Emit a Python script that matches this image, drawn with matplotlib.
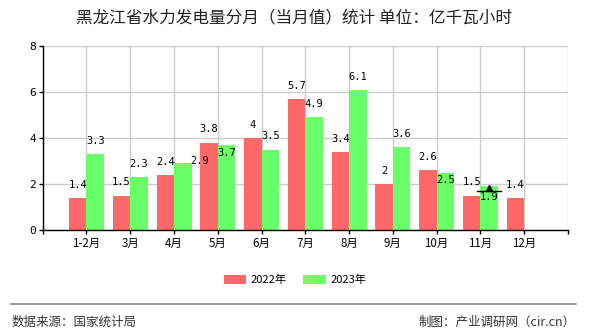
import matplotlib
matplotlib.use('Agg')
import matplotlib.pyplot as plt
import numpy as np

plt.rcParams['font.family'] = ['Noto Sans CJK SC', 'DejaVu Sans']

months = ['1-2月', '3月', '4月', '5月', '6月', '7月', '8月', '9月', '10月', '11月', '12月']
y2022 = [1.4, 1.5, 2.4, 3.8, 4, 5.7, 3.4, 2, 2.6, 1.5, 1.4]
y2023 = [3.3, 2.3, 2.9, 3.7, 3.5, 4.9, 6.1, 3.6, 2.5, 1.9]

# label nudges (points) for the few labels that get pushed off their bar
nudge_2023 = {2: (12, -8), 3: (0, -15), 8: (0, -15), 9: (0, -17)}

red = '#ff6868'
green = '#68ff68'

fig = plt.figure(figsize=(5.9, 3.3), dpi=100)
ax = fig.add_axes([0.0724, 0.303, 0.8903, 0.5576])

x = np.arange(1, len(months) + 1)
w = 0.4
ax.bar(x[:len(y2022)] - w / 2, y2022, w, color=red, label='2022年', zorder=2)
ax.bar(x[:len(y2023)] + w / 2, y2023, w, color=green, label='2023年', zorder=2)

mono = dict(family='DejaVu Sans Mono', fontsize=7.5, color='black', ha='center', va='center')

def fmt(v):
    return f'{v:g}'

for i, v in enumerate(y2022):
    ax.annotate(fmt(v), (x[i] - w / 2, v), xytext=(0, 9.5), textcoords='offset points',
                zorder=4, **mono)
for i, v in enumerate(y2023):
    dx, dy = nudge_2023.get(i, (0, 0))
    ax.annotate(fmt(v), (x[i] + w / 2, v), xytext=(dx, 9.5 + dy), textcoords='offset points',
                zorder=4, **mono)

# small pointer marker on the 11月 2023 bar
ax.plot([x[9] + w / 2], [1.82], marker='^', color='black', markersize=5, zorder=5)
ax.plot([x[9] + w / 2 - 0.27, x[9] + w / 2 + 0.27], [1.7, 1.7], color='black', lw=1, zorder=5)

ax.set_xlim(0, 12)
ax.set_ylim(0, 8)
ax.set_yticks([0, 2, 4, 6, 8])
ax.set_xticks(np.arange(0, 13))
ax.set_xticklabels([''] + months + [''])
ax.tick_params(axis='both', length=3, width=1, color='black', labelsize=8.3, pad=2)
ax.tick_params(axis='y', labelsize=8)
for lab in ax.get_yticklabels():
    lab.set_family('DejaVu Sans Mono')

ax.grid(True, color='#cccccc', lw=1, zorder=0)
ax.set_axisbelow(True)
for s in ['top', 'right']:
    ax.spines[s].set_visible(False)
for s in ['left', 'bottom']:
    ax.spines[s].set_linewidth(1)
    ax.spines[s].set_zorder(3)

fig.text(0.498, 0.942, '黑龙江省水力发电量分月（当月值）统计 单位：亿千瓦小时',
         ha='center', va='center', fontsize=12, color='#222222')

fig.legend(loc='center', bbox_to_anchor=(0.5, 0.152), ncol=2, frameon=False,
           fontsize=8, handlelength=2.0, handleheight=0.85, handletextpad=0.45,
           columnspacing=1.5)

fig.add_artist(plt.Line2D([0.018, 0.976], [0.0776, 0.0776], color='#888888', lw=1.2))
fig.text(0.019, 0.022, '数据来源：国家统计局', ha='left', va='center', fontsize=9, color='#333333')
fig.text(0.976, 0.022, '制图：产业调研网（cir.cn）', ha='right', va='center', fontsize=9, color='#333333')

fig.savefig('out.png', dpi=100)
